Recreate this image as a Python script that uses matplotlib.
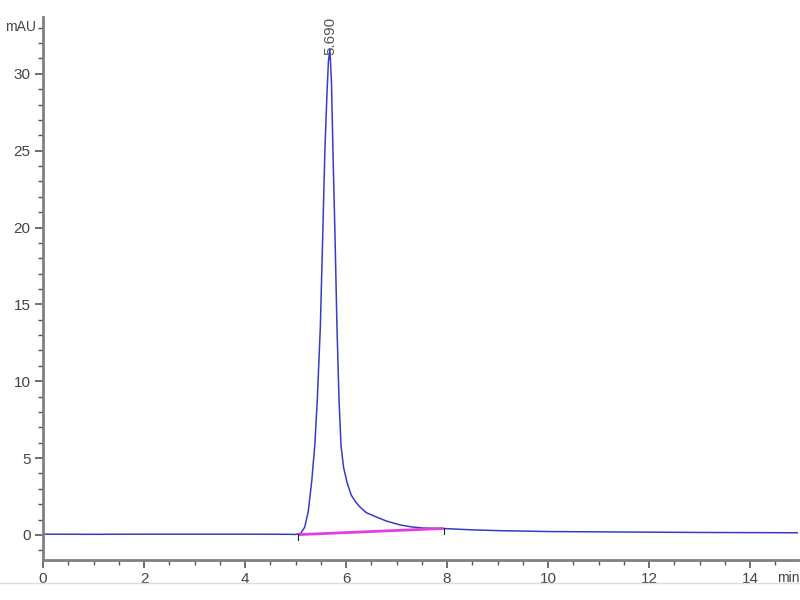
import matplotlib
matplotlib.use("Agg")
from matplotlib import pyplot as plt
from matplotlib.ticker import MultipleLocator

# chromatogram trace (min, mAU)
time = [0.0, 1.0, 2.0, 3.0, 4.0, 4.9, 5.00, 5.10, 5.18, 5.25, 5.32, 5.38, 5.43,
        5.49, 5.54, 5.58, 5.62, 5.65, 5.68, 5.71, 5.74, 5.78, 5.82, 5.86, 5.90,
        5.95, 6.02, 6.10, 6.20, 6.28, 6.40, 6.61, 6.80, 7.07, 7.30, 7.52, 7.90,
        8.5, 9.0, 10.0, 11.0, 12.0, 13.0, 14.0, 14.95]
signal = [0.05, 0.04, 0.05, 0.05, 0.05, 0.04, 0.03, 0.10, 0.50, 1.5, 3.5, 5.8, 8.8,
          13.5, 19.8, 25.0, 28.6, 30.8, 31.6, 29.5, 25.0, 19.5, 13.5, 8.8, 5.8,
          4.4, 3.4, 2.6, 2.1, 1.8, 1.45, 1.15, 0.9, 0.65, 0.52, 0.45, 0.42,
          0.33, 0.28, 0.22, 0.20, 0.18, 0.16, 0.15, 0.14]

# integration baseline (start / end of peak)
base_t = [5.05, 7.93]
base_v = [0.02, 0.42]

peak_rt = 5.690
peak_h = 31.6

FONT = ["Liberation Sans", "DejaVu Sans"]

fig = plt.figure(figsize=(8, 6), dpi=100)
ax = fig.add_axes([0.05375, 0.0667, 0.944, 0.905])

ax.plot(time, signal, color="#3a3ac8", lw=1.1)
ax.plot(base_t, base_v, color="#e040e0", lw=2.0, solid_capstyle="butt")
for t, v in zip(base_t, base_v):
    ax.plot([t, t], [v - 0.35, v + 0.05], color="#222222", lw=0.8)

ax.text(peak_rt - 0.01, peak_h - 0.4, "5.690", rotation=90, ha="center", va="bottom",
        fontsize=11, color="#555555", family=FONT)

ax.set_xlim(0, 14.95)
ax.set_ylim(-1.63, 33.7)
ax.xaxis.set_major_locator(MultipleLocator(2))
ax.xaxis.set_minor_locator(MultipleLocator(0.5))
ax.yaxis.set_major_locator(MultipleLocator(5))
ax.yaxis.set_minor_locator(MultipleLocator(1))

for s in ["top", "right"]:
    ax.spines[s].set_visible(False)
for s in ["left", "bottom"]:
    ax.spines[s].set_color("#808080")
    ax.spines[s].set_linewidth(2)

ax.tick_params(which="major", length=6, width=1.2, color="#555555", labelsize=11,
               labelcolor="#444444", pad=3)
ax.tick_params(which="minor", length=3.5, width=1, color="#555555")
for lab in ax.get_xticklabels() + ax.get_yticklabels():
    lab.set_family(FONT)

fig.text(5 / 800, 1 - 27 / 600, "mAU", fontsize=10, color="#444444", va="center",
         family=FONT)
fig.text(777 / 800, 1 - 578 / 600, "min", fontsize=10, color="#444444", va="center",
         family=FONT)
fig.add_artist(plt.Line2D([0, 1], [1 - 583 / 600, 1 - 583 / 600], color="#dddddd", lw=1))

fig.savefig("out.png", dpi=100)
